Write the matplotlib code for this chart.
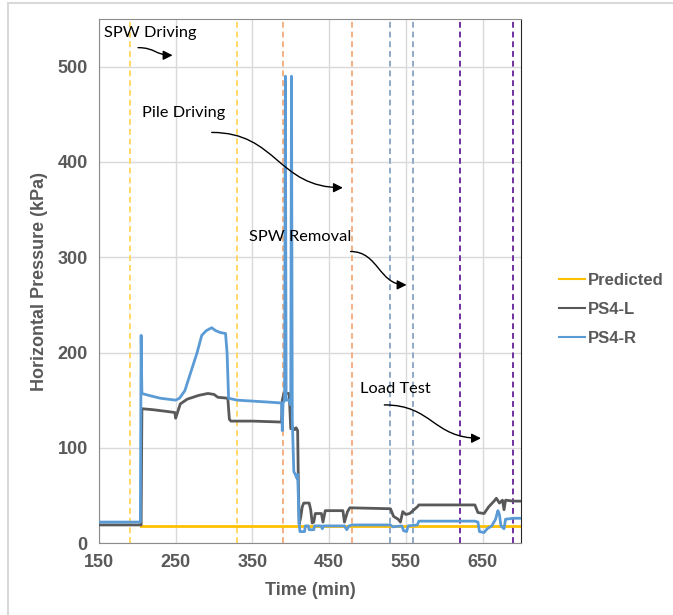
import matplotlib
matplotlib.use("Agg")
import matplotlib.pyplot as plt
from matplotlib.patches import FancyArrowPatch, Rectangle
from matplotlib.path import Path

# datos
t_pred = [205, 700]
p_pred = [18, 18]

t_L = [150, 205, 206, 220, 240, 249, 250, 252, 256, 265, 280, 292, 300, 305, 318, 320, 322, 350,
       388, 389, 391, 398, 400, 403, 405, 407, 409, 410, 411, 413, 415, 417, 424, 426, 428, 430,
       432, 440, 442, 445, 450, 468, 470, 474, 477, 530, 534, 540, 543, 546, 550, 555, 565, 567,
       640, 644, 652, 658, 665, 668, 672, 676, 678, 680, 690, 700]
p_L = [19, 19, 141, 140, 138, 137, 131, 136, 146, 151, 155, 157, 156, 153, 152, 130, 128, 128,
       127, 150, 157, 157, 120, 121, 119, 121, 118, 60, 20, 27, 38, 42, 42, 35, 21, 22,
       31, 31, 22, 34, 34, 34, 22, 33, 37, 36, 28, 25, 22, 33, 30, 31, 38, 40,
       40, 32, 31, 38, 44, 47, 42, 45, 35, 45, 44, 44]

t_R = [150, 204, 205, 206, 215, 230, 250, 255, 262, 270, 278, 284, 290, 297, 302, 308, 315, 317,
       319, 330, 350, 370, 388, 389, 390, 392, 393, 394, 396, 398, 400, 401, 402, 404, 406, 408,
       409, 411, 412, 418, 419, 423, 424, 430, 431, 440, 441, 443, 470, 473, 476, 480, 530, 533,
       545, 547, 551, 553, 565, 567, 640, 644, 646, 652, 656, 662, 667, 670, 672, 674, 678, 680,
       690, 700]
p_R = [22, 22, 218, 157, 155, 152, 150, 152, 160, 180, 200, 218, 223, 226, 223, 221, 220, 200,
       152, 150, 149, 148, 147, 118, 147, 150, 490, 150, 150, 150, 145, 490, 130, 75, 72, 68,
       72, 20, 12, 12, 18, 18, 14, 14, 18, 18, 15, 18, 18, 14, 18, 19, 19, 17,
       18, 13, 12, 18, 19, 23, 23, 22, 12, 11, 15, 18, 25, 34, 30, 18, 15, 25,
       26, 26]

fases = [190, 330, 390, 480, 530, 560, 620, 690]
colores_fases = ['#FFD966', '#FFD966', '#F4B183', '#F4B183', '#8EA9C8', '#8EA9C8', '#7030A0', '#7030A0']

notas = ['SPW Driving', 'Pile Driving', 'SPW Removal', 'Load Test']
notas_xy = [(156, 535), (206, 451), (346, 321), (490, 162)]
flechas = [((201, 520), (246, 512)), ((297, 431), (468, 373)),
           ((478, 306), (551, 271)), ((522, 145), (648, 110))]

gris = '#595959'
plt.rcParams['font.family'] = ['Liberation Sans', 'DejaVu Sans']

fig = plt.figure(figsize=(6.73, 6.15), dpi=100)
ax = fig.add_axes([0.147, 0.117, 0.627, 0.852])

for x, c in zip(fases, colores_fases):
    ax.axvline(x, color=c, linestyle=(0, (3, 2)), linewidth=1.4, zorder=1)

ax.plot(t_pred, p_pred, color='#FFC000', linewidth=2, label='Predicted', zorder=3)
ax.plot(t_L, p_L, color=gris, linewidth=2, label='PS4-L', zorder=3)
ax.plot(t_R, p_R, color='#5B9BD5', linewidth=2, label='PS4-R', zorder=4)

for txt, (x, y) in zip(notas, notas_xy):
    ax.text(x, y, txt, fontsize=11.8, va='center', ha='left', color='black',
            family=['Lato', 'DejaVu Sans'], zorder=5)

# flechas en S (bezier cubica)
for (x0, y0), (x1, y1) in flechas:
    xm = (x0 + x1) / 2
    camino = Path([(x0, y0), (xm, y0), (xm, y1), (x1, y1)],
                  [Path.MOVETO, Path.CURVE4, Path.CURVE4, Path.CURVE4])
    ax.add_patch(FancyArrowPatch(path=camino, arrowstyle='-|>', mutation_scale=14,
                                 color='black', linewidth=1, zorder=5))

ax.set_xlim(150, 700)
ax.set_ylim(0, 550)
ax.set_xticks([150, 250, 350, 450, 550, 650])
ax.set_yticks([0, 100, 200, 300, 400, 500])
ax.grid(True, color='#d9d9d9', linewidth=1)
ax.set_axisbelow(True)
ax.tick_params(length=0, labelsize=13, labelcolor=gris, pad=8)
for lab in ax.get_xticklabels() + ax.get_yticklabels():
    lab.set_fontweight('bold')
for s in ['left', 'top', 'bottom']:
    ax.spines[s].set_color('#8c8c8c')
ax.spines['right'].set_color('#262626')

ax.set_xlabel('Time (min)', fontsize=13, fontweight='bold', color=gris, labelpad=8)
ax.set_ylabel('Horizontal Pressure (kPa)', fontsize=13, fontweight='bold', color=gris, labelpad=7)

leg = fig.legend(loc='center left', bbox_to_anchor=(0.808, 0.497), frameon=False,
                 handlelength=1.6, handletextpad=0.15, labelspacing=0.85,
                 prop={'size': 12, 'weight': 'bold', 'family': 'Liberation Sans'})
for t in leg.get_texts():
    t.set_color(gris)
for l in leg.get_lines():
    l.set_linewidth(1.5)

fig.patches.append(Rectangle((0.012, -0.1), 1.2, 1.095, transform=fig.transFigure,
                             fill=False, edgecolor='#d9d9d9', linewidth=1.5))

fig.savefig('out.png', dpi=100)
